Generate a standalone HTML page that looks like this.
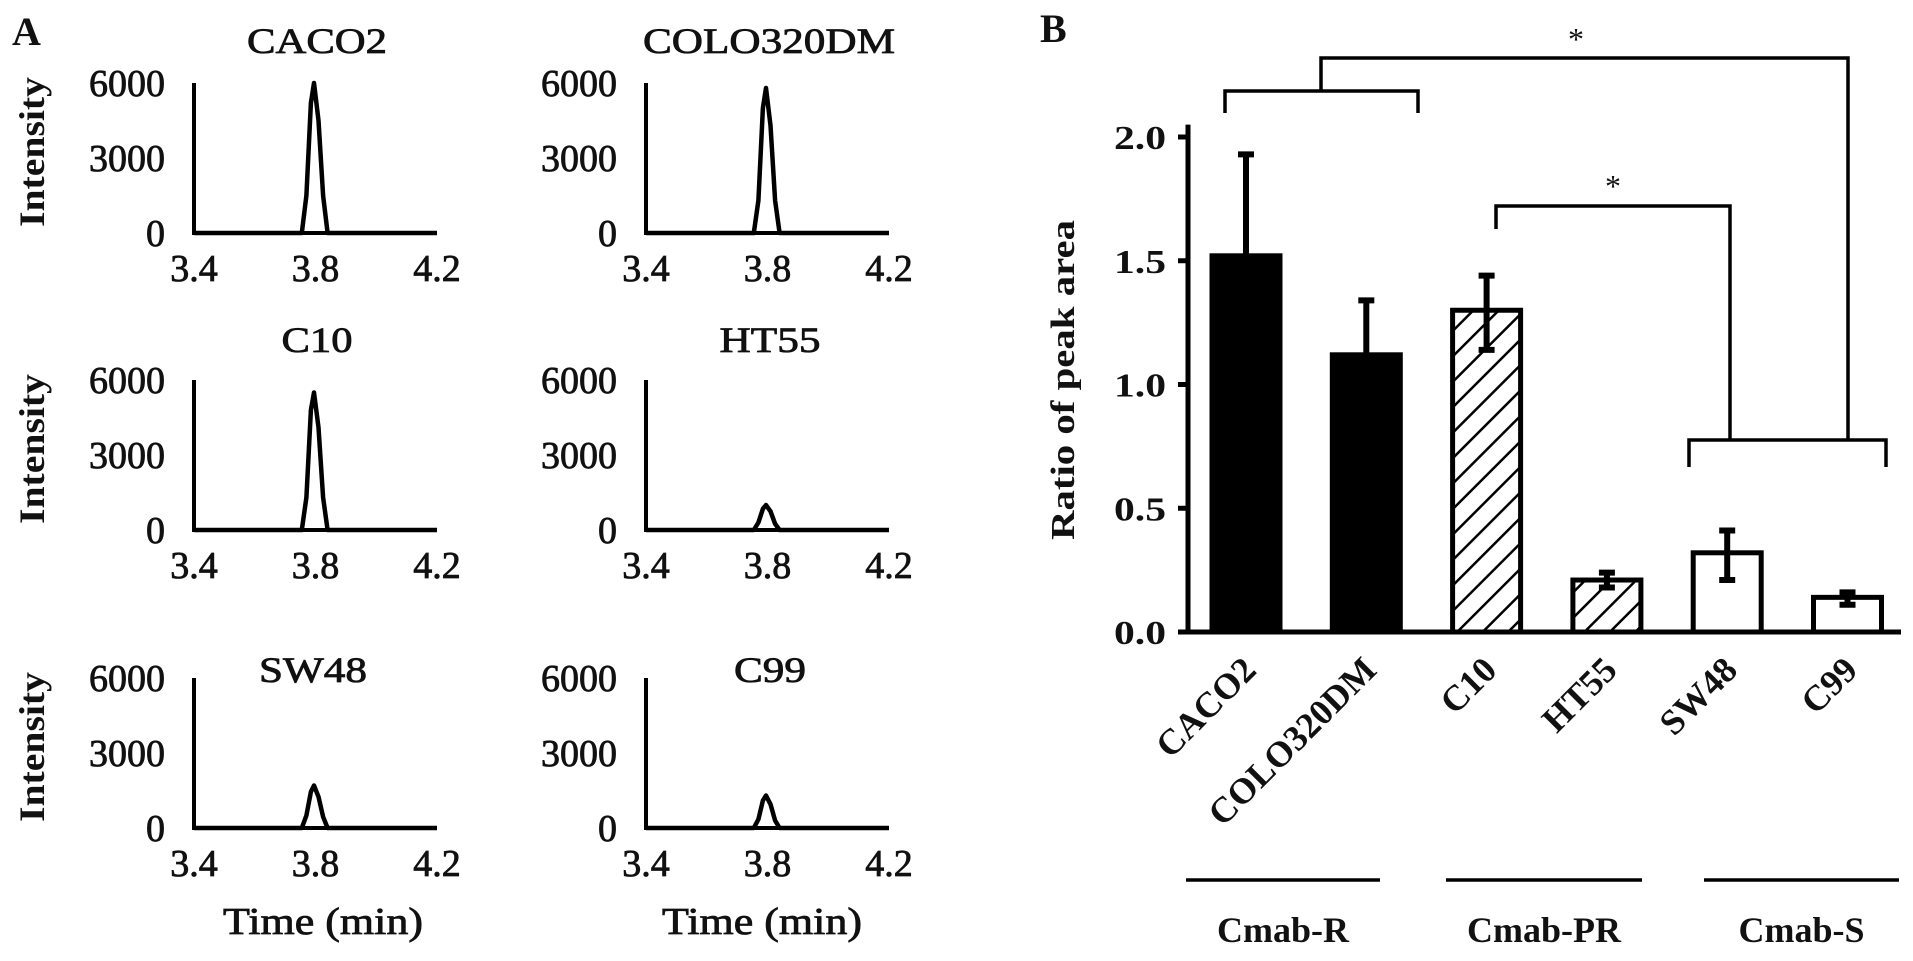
<!DOCTYPE html>
<html><head><meta charset="utf-8"><style>
html,body{margin:0;padding:0;background:#fff}
svg{display:block}
text{font-family:"Liberation Serif","DejaVu Serif",serif;fill:#111}
.hv{stroke:#111;stroke-width:0.8}
</style></head><body>
<svg id="fig" width="1913" height="961" viewBox="0 0 1913 961" xmlns="http://www.w3.org/2000/svg">
<defs>
<pattern id="hatch" patternUnits="userSpaceOnUse" width="18" height="18" patternTransform="rotate(45)">
<rect width="18" height="18" fill="#fff"/><line x1="0" y1="0" x2="0" y2="18" stroke="#000" stroke-width="5"/>
</pattern>
</defs>
<text x="12" y="45" font-size="40" font-weight="bold">A</text>
<text x="1040" y="42" font-size="40" font-weight="bold">B</text>
<g id="pa"></g><g id="pb"></g>
</svg>
<script>
// ---- Panel A data ----
const peakTitles = ["CACO2","COLO320DM","C10","HT55","SW48","C99"];
const peakTimes = [3.40,3.70,3.755,3.77,3.785,3.795,3.81,3.825,3.84,3.90,4.00,4.20];
const peakCACO2 = [0,0,0,1500,5200,6000,4500,1500,0,0,0,0];
const peakCOLO = [0,0,0,1300,5000,5800,4300,1300,0,0,0,0];
const peakC10 = [0,0,0,1300,4800,5500,4100,1300,0,0,0,0];
const peakHT55 = [0,0,0,300,850,1000,750,250,0,0,0,0];
const peakSW48 = [0,0,0,500,1450,1700,1250,450,0,0,0,0];
const peakC99 = [0,0,0,350,1100,1300,950,300,0,0,0,0];
const yTicksA = [0,3000,6000];
const xTicksA = [3.4,3.8,4.2];
// ---- Panel B data ----
const cats = ["CACO2","COLO320DM","C10","HT55","SW48","C99"];
const means = [1.52,1.12,1.30,0.21,0.32,0.14];
const errHi = [1.93,1.34,1.44,0.24,0.41,0.16];
const errLo = [1.52,1.12,1.14,0.18,0.21,0.11];
const fills = ["black","black","hatch","hatch","white","white"];
const yTicksB = [0.0,0.5,1.0,1.5,2.0];
const yTickLabelsB = ["0.0","0.5","1.0","1.5","2.0"];
const groups = ["Cmab-R","Cmab-PR","Cmab-S"];

const NS="http://www.w3.org/2000/svg";
function mk(tag,parent,attrs){const e=document.createElementNS(NS,tag);for(const k in attrs)e.setAttribute(k,attrs[k]);parent.appendChild(e);return e;}

// Panel A
const pa=document.getElementById('pa');
const series=[peakCACO2,peakCOLO,peakC10,peakHT55,peakSW48,peakC99];
const colX=[194,646], rowBase=[233,530,828], titleBase=[53,352,682];
const titleW=[140,252,71,101,108,72], titleC=[317,769,317,770,313,770];
const AW=243, AH=150;
for(let i=0;i<6;i++){
  const c=i%2,r=Math.floor(i/2);
  const x0=colX[c], y0=rowBase[r];
  const sx=t=>x0+(t-3.4)/0.8*AW, sy=v=>y0-v/6000*AH;
  const g=mk('g',pa,{});
  
  
  const t=mk('text',g,{x:titleC[i],y:titleBase[r],'font-size':36,'text-anchor':'middle',textLength:titleW[i],lengthAdjust:'spacingAndGlyphs',class:'hv'});
  t.textContent=peakTitles[i];
  
  
  const ax=mk('path',g,{d:`M${x0},${sy(6000)} V${y0} H${x0+AW}`,fill:'none',stroke:'#000','stroke-width':4});
  
  
  yTicksA.forEach(v=>{const tt=mk('text',g,{x:x0-29,y:sy(v)+13,'font-size':38,'text-anchor':'end',class:'hv'});tt.textContent=v;
    
    });
  xTicksA.forEach(v=>{const tt=mk('text',g,{x:sx(v),y:y0+48,'font-size':38,'text-anchor':'middle',class:'hv'});tt.textContent=v.toFixed(1);
    
    });
  const d=peakTimes.map((tm,k)=>(k?'L':'M')+sx(tm).toFixed(1)+','+sy(series[i][k]).toFixed(1)).join(' ');
  const p=mk('path',g,{d:d,fill:'none',stroke:'#000','stroke-width':4.5,'stroke-linejoin':'round'});
  
  
  if(c===0){
    const yl=mk('text',pa,{x:0,y:0,'font-size':36,'font-weight':'bold','text-anchor':'middle',textLength:150,lengthAdjust:'spacingAndGlyphs',transform:`translate(44,${y0-81}) rotate(-90)`});
    yl.textContent='Intensity';
    
    
  }
}
[323,762].forEach(cx=>{const t=mk('text',pa,{x:cx,y:934,'font-size':38,'text-anchor':'middle',textLength:200,lengthAdjust:'spacingAndGlyphs',class:'hv'});t.textContent='Time (min)';
  
  });

// Panel B
const pb=document.getElementById('pb');
const BX0=1188, BX1=1901, BY0=632, BS=247.5;
const yB=v=>BY0-v*BS;
const barW=68, firstC=1246, step=120.3;
const xc=i=>firstC+i*step;
yTicksB.forEach((v,k)=>{
  const tk=mk('line',pb,{x1:BX0-10,x2:BX0,y1:yB(v),y2:yB(v),stroke:'#000','stroke-width':5});
  
  
  const t=mk('text',pb,{x:1166,y:yB(v)+12,'font-size':34,'font-weight':'bold','text-anchor':'end',textLength:52,lengthAdjust:'spacingAndGlyphs'});
  t.textContent=yTickLabelsB[k];
  
  
});
cats.forEach((c,i)=>{
  const x=xc(i)-barW/2;
  const f=fills[i]==='black'?'#000':fills[i]==='hatch'?'url(#hatch)':'#fff';
  const b=mk('rect',pb,{x:x,y:yB(means[i]),width:barW,height:yB(0)-yB(means[i]),fill:f,stroke:'#000','stroke-width':5});
  
  
  const e=mk('path',pb,{d:`M${xc(i)},${yB(errLo[i])} V${yB(errHi[i])} M${xc(i)-8},${yB(errHi[i])} H${xc(i)+8}`+(errLo[i]<means[i]?` M${xc(i)-8},${yB(errLo[i])} H${xc(i)+8}`:''),stroke:'#000','stroke-width':6,fill:'none'});
  
  
  const t=mk('text',pb,{x:0,y:0,'font-size':36,'font-weight':'bold','text-anchor':'end',transform:`translate(${xc(i)+12},${672}) rotate(-45)`});
  t.textContent=c;
  
  
});
const axB=mk('path',pb,{d:`M${BX0},${yB(2.05)} V${BY0} H${BX1}`,fill:'none',stroke:'#000','stroke-width':5});


const ylB=mk('text',pb,{x:0,y:0,'font-size':34,'font-weight':'bold','text-anchor':'middle',textLength:320,lengthAdjust:'spacingAndGlyphs',transform:'translate(1074,380) rotate(-90)'});
ylB.textContent='Ratio of peak area';


// significance brackets
const br=[`M1225,113 V91 H1418 V113 M1321,91 V58 H1848 V440`,`M1689,467 V440 H1886 V467`,`M1496,229 V206 H1730 V440`];
br.forEach(d=>{const p=mk('path',pb,{d:d,fill:'none',stroke:'#000','stroke-width':3.5});
  
  });
[[1576,50],[1613,197]].forEach(([x,y])=>{const t=mk('text',pb,{x:x,y:y,'font-size':32,'text-anchor':'middle',fill:'#444'});t.textContent='*';
  
  });
// group lines
const gx=[[1186,1380],[1446,1642],[1704,1899]];
groups.forEach((g,i)=>{
  const l=mk('line',pb,{x1:gx[i][0],x2:gx[i][1],y1:880,y2:880,stroke:'#000','stroke-width':3.5});
  
  
  const t=mk('text',pb,{x:(gx[i][0]+gx[i][1])/2,y:942,'font-size':36,'font-weight':'bold','text-anchor':'middle'});
  t.textContent=g;
  
  
});
</script>
</body></html>
